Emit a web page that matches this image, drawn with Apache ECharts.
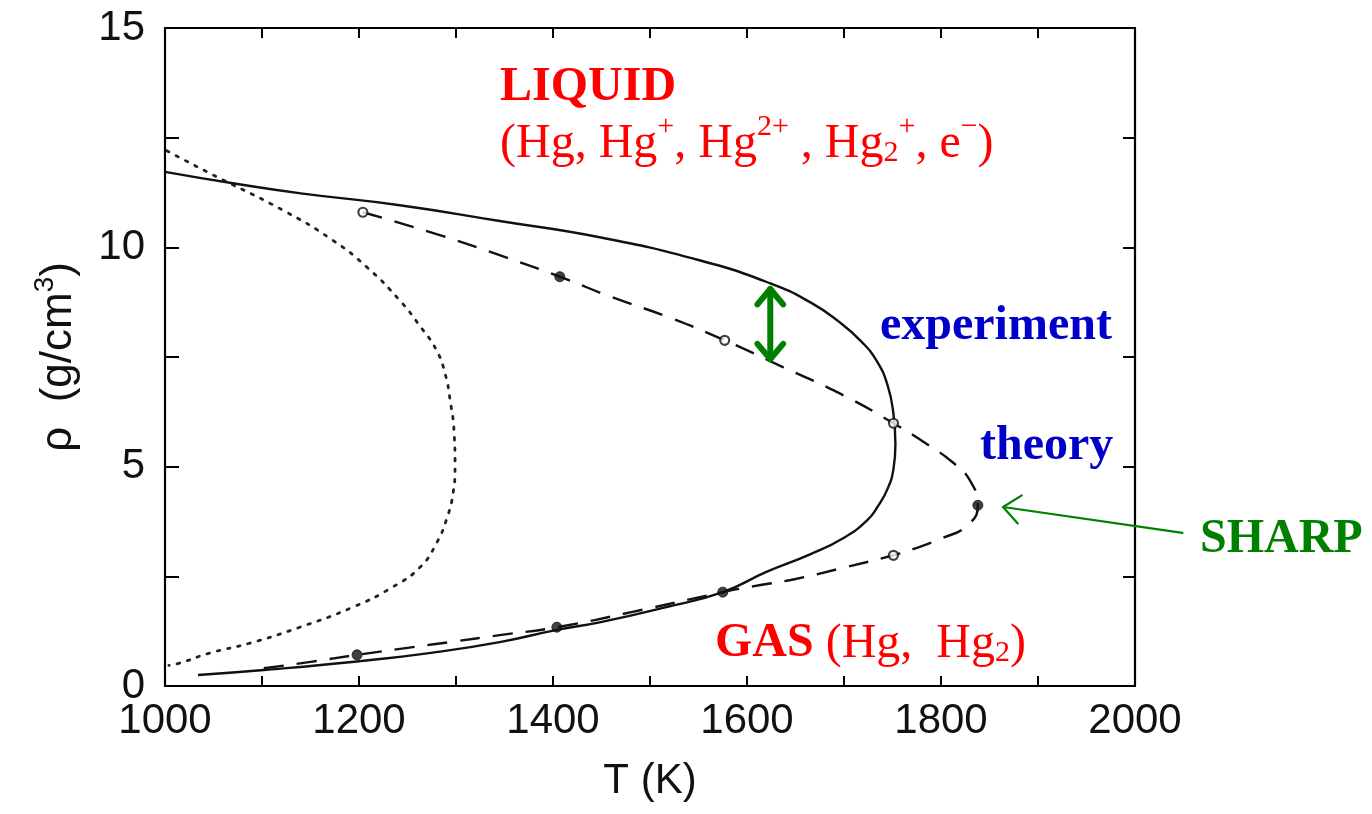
<!DOCTYPE html>
<html>
<head>
<meta charset="utf-8">
<title>Mercury liquid–gas coexistence</title>
<script src="https://cdn.jsdelivr.net/npm/echarts@6/dist/echarts.min.js"></script>
<style>
  html, body { margin: 0; padding: 0; background: #fff; }
  #chart { width: 1372px; height: 814px; }
</style>
</head>
<body>
<div id="chart"></div>
<script>
// Axis tick labels
const xTickLabels = [1000, 1200, 1400, 1600, 1800, 2000];
const yTickLabels = [0, 5, 10, 15];

// Experimental coexistence curve [T (K), rho (g/cm^3)], liquid branch then gas branch
const experiment = [
  [1000, 11.72], [1070, 11.46], [1140, 11.23], [1242, 10.96], [1345, 10.60],
  [1448, 10.23], [1552, 9.70], [1624, 9.18], [1665, 8.75], [1695, 8.30],
  [1718, 7.85], [1734, 7.40], [1745, 6.85], [1751, 6.20], [1753, 5.50],
  [1751, 4.95], [1745, 4.50], [1735, 4.10], [1724, 3.78], [1700, 3.38],
  [1665, 3.00], [1620, 2.60], [1575, 2.14], [1517, 1.80], [1448, 1.45],
  [1404, 1.28], [1345, 1.00], [1276, 0.76], [1198, 0.56], [1105, 0.37],
  [1034, 0.25]
];

// Theoretical coexistence curve (dashed)
const theory = [
  [1204, 10.80], [1280, 10.30], [1345, 9.82], [1407, 9.33], [1460, 8.87],
  [1520, 8.40], [1577, 7.88], [1637, 7.27], [1700, 6.62], [1751, 5.99],
  [1785, 5.52], [1812, 5.10], [1830, 4.68], [1838, 4.12], [1827, 3.66],
  [1800, 3.36], [1771, 3.12], [1751, 2.98], [1700, 2.70], [1650, 2.44],
  [1606, 2.27], [1575, 2.14], [1482, 1.69], [1404, 1.34], [1345, 1.16],
  [1300, 1.02], [1250, 0.87], [1198, 0.71], [1150, 0.55], [1100, 0.40]
];
const theoryOpen = [[1204, 10.80], [1577, 7.88], [1751, 5.99], [1751, 2.98]];
const theoryFilled = [[1407, 9.33], [1838, 4.12], [1575, 2.14], [1404, 1.34], [1198, 0.71]];

// Dotted curve
const dotted = [
  [1002, 12.20], [1046, 11.69], [1122, 10.84], [1173, 10.16], [1208, 9.55],
  [1242, 8.79], [1263, 8.20], [1280, 7.65], [1289, 7.10], [1294, 6.51],
  [1298, 5.80], [1299, 5.00], [1297, 4.40], [1291, 3.85], [1280, 3.26],
  [1263, 2.71], [1235, 2.26], [1194, 1.80], [1139, 1.34], [1088, 0.98],
  [1046, 0.75], [1015, 0.52], [1004, 0.47]
];

// Annotation arrows [T, rho]: vertical double arrow and the pointer to the SHARP point
const gapArrow = [[1624, 9.05], [1624, 7.45]];
const sharpArrow = [[2049, 3.49], [1864, 4.08]];

const RED = '#ff0000';
const BLUE = '#0000c8';
const GREEN = '#008000';
const SERIF = '"Liberation Serif", "Times New Roman", serif';
const SANS = '"Liberation Sans", Arial, Helvetica, sans-serif';

const chart = echarts.init(document.getElementById('chart'), null, { renderer: 'canvas' });

function chevron(tip, from, len, spread) {
  const dx = from[0] - tip[0], dy = from[1] - tip[1];
  const d = Math.sqrt(dx * dx + dy * dy);
  const ux = dx / d, uy = dy / d;
  const c = Math.cos(spread), s = Math.sin(spread);
  const a1 = [tip[0] + len * (ux * c - uy * s), tip[1] + len * (ux * s + uy * c)];
  const a2 = [tip[0] + len * (ux * c + uy * s), tip[1] + len * (-ux * s + uy * c)];
  return [a1, tip, a2];
}

function arrowItem(pts, width, headLen, both) {
  return function (params, api) {
    const p0 = api.coord(pts[0]);
    const p1 = api.coord(pts[1]);
    const head = (tip, from) => ({
      type: 'polyline',
      shape: { points: chevron(tip, from, headLen, Math.PI / 4.5) },
      style: { stroke: GREEN, lineWidth: width, fill: null, lineCap: 'round', lineJoin: 'round' }
    });
    const children = [{
      type: 'line',
      shape: { x1: p0[0], y1: p0[1], x2: p1[0], y2: p1[1] },
      style: { stroke: GREEN, lineWidth: width, lineCap: 'round' }
    }, head(p1, p0)];
    if (both) children.push(head(p0, p1));
    return { type: 'group', children: children };
  };
}

const axisLineStyle = { color: '#000', width: 2.2 };
const tickStyle = { color: '#000', width: 2 };

const option = {
  backgroundColor: '#fff',
  animation: false,
  grid: { left: 165, right: 237, top: 28, bottom: 128, containLabel: false },
  xAxis: [{
    type: 'value', min: 1000, max: 2000, interval: 100, position: 'bottom',
    axisLine: { show: true, onZero: false, lineStyle: axisLineStyle },
    axisTick: { show: true, inside: true, length: 10, lineStyle: tickStyle },
    axisLabel: {
      formatter: v => (xTickLabels.indexOf(v) >= 0 ? String(v) : ''),
      fontSize: 42, fontFamily: SANS, color: '#111', margin: 14
    },
    splitLine: { show: false },
    name: 'T (K)', nameLocation: 'middle', nameGap: 74,
    nameTextStyle: { fontSize: 42, fontFamily: SANS, color: '#111' }
  }, {
    type: 'value', min: 1000, max: 2000, interval: 100, position: 'top',
    axisLine: { show: true, onZero: false, lineStyle: axisLineStyle },
    axisTick: { show: true, inside: true, length: 10, lineStyle: tickStyle },
    axisLabel: { show: false }, splitLine: { show: false }
  }],
  yAxis: [{
    type: 'value', min: 0, max: 15, interval: 2.5, position: 'left',
    axisLine: { show: true, onZero: false, lineStyle: axisLineStyle },
    axisTick: { show: true, inside: true, length: 14, lineStyle: tickStyle },
    axisLabel: {
      formatter: v => (yTickLabels.indexOf(v) >= 0 ? String(v) : ''),
      fontSize: 42, fontFamily: SANS, color: '#111', margin: 20
    },
    splitLine: { show: false },
    name: '{a|ρ  (g/cm}{s|3}{a|)}', nameLocation: 'middle', nameGap: 84, nameRotate: 90,
    nameTextStyle: {
      fontSize: 44, fontFamily: SANS, color: '#111',
      rich: {
        a: { fontSize: 44, fontFamily: SANS, color: '#111', lineHeight: 50, verticalAlign: 'bottom' },
        s: { fontSize: 28, fontFamily: SANS, color: '#111', lineHeight: 28, verticalAlign: 'top' }
      }
    }
  }, {
    type: 'value', min: 0, max: 15, interval: 2.5, position: 'right',
    axisLine: { show: true, onZero: false, lineStyle: axisLineStyle },
    axisTick: { show: true, inside: true, length: 12, lineStyle: tickStyle },
    axisLabel: { show: false }, splitLine: { show: false }
  }],
  series: [{
    name: 'experiment', type: 'line', data: experiment, smooth: 0.5,
    symbol: 'none', lineStyle: { color: '#111', width: 2.4 }, z: 3
  }, {
    name: 'theory', type: 'line', data: theory, smooth: 0.5,
    symbol: 'none', lineStyle: { color: '#111', width: 2.4, type: [20, 13] }, z: 3
  }, {
    name: 'dotted', type: 'line', data: dotted, smooth: 0.5,
    symbol: 'none', lineStyle: { color: '#222', width: 2.8, type: [2.5, 8], cap: 'round' }, z: 2
  }, {
    name: 'theory points (open)', type: 'scatter', data: theoryOpen,
    symbol: 'circle', symbolSize: 9,
    itemStyle: { color: '#fff', borderColor: '#111', borderWidth: 2.2 }, z: 4
  }, {
    name: 'theory points (filled)', type: 'scatter', data: theoryFilled,
    symbol: 'circle', symbolSize: 10,
    itemStyle: { color: '#111', borderColor: '#111', borderWidth: 1 }, z: 4
  }, {
    name: 'gap arrow', type: 'custom', data: [0], clip: false,
    renderItem: arrowItem(gapArrow, 6, 20, true), z: 5, silent: true
  }, {
    name: 'sharp arrow', type: 'custom', data: [0], clip: false,
    renderItem: arrowItem(sharpArrow, 2.2, 22, false), z: 5, silent: true
  }],
  graphic: [{
    type: 'text', x: 500, y: 88, z: 10,
    style: { text: 'LIQUID', font: 'bold 48px ' + SERIF, fill: RED, verticalAlign: 'middle' }
  }, {
    type: 'text', x: 500, y: 140, z: 10,
    style: {
      text: '{p|(Hg, Hg}{sup|+}{p|, Hg}{sup|2+}{p| , Hg}{sub|2}{sup|+}{p|, e}{sup|−}{p|)}',
      verticalAlign: 'middle',
      rich: {
        p: { fontSize: 48, fontFamily: SERIF, fill: RED, lineHeight: 56, verticalAlign: 'bottom' },
        sup: { fontSize: 30, fontFamily: SERIF, fill: RED, lineHeight: 30, verticalAlign: 'top' },
        sub: { fontSize: 30, fontFamily: SERIF, fill: RED, lineHeight: 30, verticalAlign: 'bottom' }
      }
    }
  }, {
    type: 'text', x: 880, y: 327, z: 10,
    style: { text: 'experiment', font: 'bold 48px ' + SERIF, fill: BLUE, verticalAlign: 'middle' }
  }, {
    type: 'text', x: 980, y: 447, z: 10,
    style: { text: 'theory', font: 'bold 48px ' + SERIF, fill: BLUE, verticalAlign: 'middle' }
  }, {
    type: 'text', x: 1200, y: 540, z: 10,
    style: { text: 'SHARP', font: 'bold 48px ' + SERIF, fill: GREEN, verticalAlign: 'middle' }
  }, {
    type: 'text', x: 715, y: 640, z: 10,
    style: {
      text: '{b|GAS}{r| (Hg,  Hg}{sub|2}{r|)}',
      verticalAlign: 'middle',
      rich: {
        b: { fontSize: 48, fontWeight: 'bold', fontFamily: SERIF, fill: RED, lineHeight: 56, verticalAlign: 'bottom' },
        r: { fontSize: 48, fontFamily: SERIF, fill: RED, lineHeight: 56, verticalAlign: 'bottom' },
        sub: { fontSize: 30, fontFamily: SERIF, fill: RED, lineHeight: 30, verticalAlign: 'bottom' }
      }
    }
  }]
};

chart.setOption(option);
</script>
</body>
</html>
